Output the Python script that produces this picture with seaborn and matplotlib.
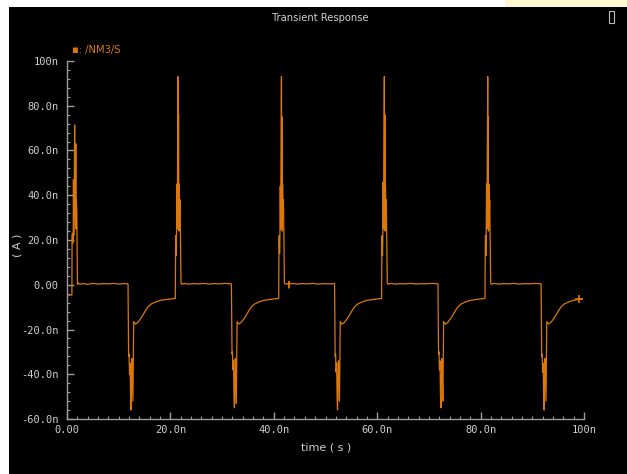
import numpy as np
import pandas as pd
import matplotlib
matplotlib.use('Agg')
import matplotlib.pyplot as plt
from matplotlib.patches import Rectangle
from matplotlib.ticker import MultipleLocator, FixedLocator, FixedFormatter
import seaborn as sns

# time in ns, current in nA
t_cycle1 = [0.0, 0.95, 0.98, 1.05, 1.1, 1.2, 1.25, 1.3, 1.4, 1.48, 1.52, 1.58, 1.65, 1.7, 1.75, 1.82, 1.9, 1.98, 2.02, 2.2,
            2.5, 3.2, 4.0, 5.0, 6.0, 7.0, 8.0, 9.0, 10.0, 11.0, 11.8, 11.86, 11.92, 12.0, 12.1, 12.2, 12.3, 12.38, 12.45, 12.55,
            12.65, 12.75, 12.85, 12.9, 13.25, 13.7, 14.2, 14.7, 15.2, 15.7, 16.3, 17.0, 18.0, 19.5, 20.95]
i_cycle1 = [-4.6, -4.6, 21.5, 23, 18.5, 20, 47, 22, 35, 71.4, 40, 56.5, 30, 63, 25, 38, 32, 10, 0.2, 0.8,
            0.3, 0.5, 0.2, 0.6, 0.3, 0.5, 0.4, 0.6, 0.3, 0.5, 0.4, -15, -32, -31, -40, -35, -50, -56, -45, -33,
            -42, -52, -30, -16.5, -17.6, -16.8, -15.3, -13.5, -11.5, -9.8, -8.6, -7.8, -7.0, -6.5, -6.1]

t_cycle2 = [21.0, 21.05, 21.12, 21.18, 21.25, 21.32, 21.4, 21.48, 21.53, 21.58, 21.63, 21.7, 21.78, 21.86, 21.95, 22.05, 22.2,
            22.6, 23.5, 24.5, 25.5, 26.5, 27.5, 28.5, 29.5, 30.5, 31.8, 31.86, 31.92, 32.0, 32.1, 32.2, 32.3, 32.38, 32.45,
            32.55, 32.65, 32.75, 32.85, 32.9, 33.25, 33.7, 34.2, 34.7, 35.2, 35.7, 36.3, 37.0, 38.0, 39.5, 40.95]
i_cycle2 = [17, 22, 13, 21, 45, 25, 60, 93, 40, 76, 24, 45, 30, 38, 22, 0.8, 0.2,
            0.6, 0.3, 0.5, 0.4, 0.6, 0.3, 0.5, 0.4, 0.6, 0.4, -15, -31, -30, -38, -34, -49, -55, -44,
            -33, -41, -53, -31, -16.5, -17.6, -16.8, -15.3, -13.5, -11.5, -9.8, -8.6, -7.8, -7.0, -6.5, -6.1]

t_cycle3 = [41.0, 41.05, 41.12, 41.18, 41.25, 41.32, 41.4, 41.48, 41.53, 41.58, 41.63, 41.7, 41.78, 41.86, 41.95, 42.05, 42.2,
            42.85, 42.9, 42.95, 43.0, 43.5, 44.5, 45.5, 46.5, 47.5, 48.5, 49.5, 50.5, 51.75, 51.81, 51.87, 51.95, 52.05, 52.15,
            52.25, 52.33, 52.4, 52.5, 52.6, 52.7, 52.8, 52.85, 53.2, 53.65, 54.15, 54.65, 55.15, 55.65, 56.25, 56.95, 57.95,
            59.45, 60.85]
i_cycle3 = [18, 22, 14, 21, 44, 25, 62, 93, 42, 75, 24, 45, 30, 38, 23, 0.7, 0.3,
            0.5, -1.5, 1.5, 0.3, 0.6, 0.3, 0.5, 0.4, 0.6, 0.3, 0.5, 0.4, 0.5, -15, -32, -31, -39, -35,
            -51, -56, -44, -34, -42, -52, -31, -16.5, -17.6, -16.8, -15.3, -13.5, -11.5, -9.8, -8.6, -7.8, -7.0,
            -6.5, -6.1]

t_cycle4 = [60.9, 60.95, 61.02, 61.08, 61.15, 61.22, 61.3, 61.38, 61.43, 61.48, 61.53, 61.6, 61.68, 61.76, 61.85, 61.95, 62.1,
            62.6, 63.5, 64.5, 65.5, 66.5, 67.5, 68.5, 69.5, 70.5, 71.75, 71.81, 71.87, 71.95, 72.05, 72.15, 72.25, 72.33, 72.4,
            72.5, 72.6, 72.7, 72.8, 72.85, 73.2, 73.65, 74.15, 74.65, 75.15, 75.65, 76.25, 76.95, 77.95, 79.45, 80.85]
i_cycle4 = [17, 22, 13, 20, 46, 25, 61, 93, 41, 76, 24, 44, 30, 38, 22, 0.8, 0.2,
            0.6, 0.3, 0.5, 0.4, 0.6, 0.3, 0.5, 0.4, 0.6, 0.4, -15, -31, -30, -38, -34, -50, -55, -44,
            -33, -41, -52, -31, -16.5, -17.6, -16.8, -15.3, -13.5, -11.5, -9.8, -8.6, -7.8, -7.0, -6.5, -6.1]

t_cycle5 = [80.9, 80.95, 81.02, 81.08, 81.15, 81.22, 81.3, 81.38, 81.43, 81.48, 81.53, 81.6, 81.68, 81.76, 81.85, 81.95, 82.1,
            82.6, 83.5, 84.5, 85.5, 86.5, 87.5, 88.5, 89.5, 90.5, 91.7, 91.76, 91.82, 91.9, 92.0, 92.1, 92.2, 92.28, 92.35,
            92.45, 92.55, 92.65, 92.75, 92.8, 93.15, 93.6, 94.1, 94.6, 95.1, 95.6, 96.2, 96.9, 97.9, 99.1, 99.7]
i_cycle5 = [17, 22, 13, 21, 45, 25, 60, 93, 40, 75, 24, 45, 30, 38, 22, 0.8, 0.2,
            0.6, 0.3, 0.5, 0.4, 0.6, 0.3, 0.5, 0.4, 0.6, 0.4, -15, -32, -31, -39, -35, -50, -56, -45,
            -33, -42, -52, -30, -16.5, -17.6, -16.8, -15.3, -13.5, -11.5, -9.8, -8.6, -7.8, -7.0, -6.5, -6.4]

end_marker_t = [99.1]
end_marker_i = [-6.5]

x_ticks = [0, 20, 40, 60, 80, 100]
x_ticklabels = ['0.00', '20.0n', '40.0n', '60.0n', '80.0n', '100n']
y_ticks = [-60, -40, -20, 0, 20, 40, 60, 80, 100]
y_ticklabels = ['-60.0n', '-40.0n', '-20.0n', '0.00', '20.0n', '40.0n', '60.0n', '80.0n', '100n']

trace = pd.DataFrame({
    'time': t_cycle1 + t_cycle2 + t_cycle3 + t_cycle4 + t_cycle5,
    'current': i_cycle1 + i_cycle2 + i_cycle3 + i_cycle4 + i_cycle5,
})

sns.set_style('ticks')
plt.rcParams['font.family'] = ['DejaVu Sans']

TRACE = '#DC780A'
GREY = '#9C9C9C'
LABEL = '#CFCFCF'

fig = plt.figure(figsize=(6.27, 4.74), dpi=100, facecolor='white')
fig.add_artist(Rectangle((9/627, 0), 1, 1 - 7/474, transform=fig.transFigure, facecolor='black', edgecolor='none', zorder=-2))
fig.add_artist(Rectangle((505/627, 1 - 7/474), 1, 7/474, transform=fig.transFigure, facecolor='#FFF6D2', edgecolor='none', zorder=-2))

ax = fig.add_axes([67/627, 1 - 419/474, 517/627, 358/474])
ax.set_facecolor('black')

sns.lineplot(data=trace, x='time', y='current', ax=ax, color=TRACE, linewidth=0.9,
             estimator=None, sort=False)
sns.scatterplot(x=end_marker_t, y=end_marker_i, ax=ax, marker='+', color=TRACE, s=40, linewidth=1.2)

ax.set_xlim(0, 100)
ax.set_ylim(-60, 100)
ax.xaxis.set_major_locator(FixedLocator(x_ticks))
ax.xaxis.set_major_formatter(FixedFormatter(x_ticklabels))
ax.yaxis.set_major_locator(FixedLocator(y_ticks))
ax.yaxis.set_major_formatter(FixedFormatter(y_ticklabels))
ax.xaxis.set_minor_locator(MultipleLocator(2))
ax.yaxis.set_minor_locator(MultipleLocator(4))

for side in ['top', 'right']:
    ax.spines[side].set_visible(False)
for side in ['left', 'bottom']:
    ax.spines[side].set_color(GREY)
    ax.spines[side].set_linewidth(1.0)

ax.tick_params(axis='both', which='both', direction='in', color=GREY, labelcolor=LABEL, labelsize=7.5)
ax.tick_params(axis='both', which='major', length=5, width=1)
ax.tick_params(axis='both', which='minor', length=2.5, width=0.8)
ax.tick_params(axis='y', pad=6)
ax.tick_params(axis='x', pad=4)
for lab in ax.get_xticklabels() + ax.get_yticklabels():
    lab.set_family(['DejaVu Sans Mono'])

ax.set_xlabel('time ( s )', color=LABEL, fontsize=8)
ax.set_ylabel('( A )', color=LABEL, fontsize=8, va='center', ha='center')
ax.yaxis.set_label_coords(-(67 - 18) / 517, (419 - 245) / 358, transform=ax.transAxes)
ax.xaxis.set_label_coords((326 - 67) / 517, -(447 - 419) / 358)
ax.xaxis.label.set_va('center')

fig.text(320/627, 1 - 18/474, 'Transient Response', color=LABEL, fontsize=8, ha='center', va='center', fontstretch='condensed')
fig.text(72/627, 1 - 50/474, '\u25aa: /NM3/S', color=TRACE, fontsize=8, ha='left', va='center', fontstretch='condensed')
fig.add_artist(Rectangle((609/627, 1 - 23/474), 5/627, 12/474, transform=fig.transFigure, facecolor='none', edgecolor='#BDBDBD', linewidth=0.8))

fig.savefig('out.png', dpi=100, facecolor=fig.get_facecolor())
